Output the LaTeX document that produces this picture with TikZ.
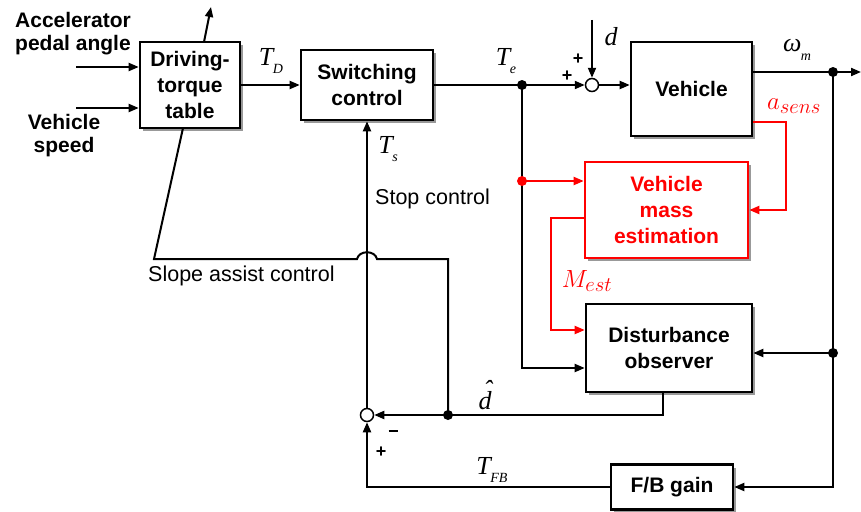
\documentclass[tikz,border=0pt]{standalone}
\usepackage{fontspec}
\setmainfont{Liberation Sans}
\newfontfamily\tms{Liberation Serif}
\usetikzlibrary{shadows,arrows.meta}
\definecolor{myred}{RGB}{255,0,0}
\newcommand{\sublab}[2]{{\tms\itshape #1\kern-0.02em\raisebox{-0.32em}{\fontsize{14}{14}\selectfont #2}}}
\begin{document}
\begin{tikzpicture}[x=1pt,y=-1pt,
  >={Triangle[length=10pt,width=8pt]},
  wire/.style={line width=2pt},
  box/.style={draw, line width=2.6pt, fill=white, align=center, inner sep=0pt,
    font=\fontsize{21}{26}\selectfont\bfseries,
    drop shadow={shadow xshift=3pt,shadow yshift=-3pt,fill=black!40,opacity=1}},
  rbox/.style={box, draw=myred, text=myred},
  sumc/.style={circle, draw, line width=1.5pt, fill=white, minimum size=13pt, inner sep=0pt},
  jdot/.style={circle, fill, minimum size=10pt, inner sep=0pt},
  lbl/.style={inner sep=0pt, font=\fontsize{26}{26}\selectfont},
  rlbl/.style={inner sep=0pt, text=myred, font=\fontsize{31}{31}\selectfont},
  txt/.style={inner sep=0pt, font=\fontsize{21.5}{24}\selectfont},
  btxt/.style={inner sep=0pt, align=center, font=\fontsize{21}{23}\selectfont\bfseries},
  sgn/.style={inner sep=0pt, font=\fontsize{18}{18}\selectfont\bfseries}
]
\useasboundingbox (0,0) rectangle (861,511);

% boxes
\node[box, minimum width=100pt, minimum height=86pt] (dt) at (190,85) {Driving-\\torque\\table};
\node[box, minimum width=132pt, minimum height=70pt] (sw) at (367,85) {Switching\\control};
\node[box, minimum width=121pt, minimum height=94pt] (veh) at (691.5,89) {Vehicle};
\node[rbox, minimum width=163pt, minimum height=96pt] (vme) at (666.5,210) {Vehicle\\mass\\estimation};
\node[box, minimum width=166pt, minimum height=88pt] (dob) at (669,348) {Disturbance\\observer};
\node[box, minimum width=122pt, minimum height=45pt] (fb) at (672,487) {F/B gain};

% summing points
\node[sumc] (s1) at (592,85) {};
\node[sumc] (s2) at (367,415) {};

% coordinates
\coordinate (in1) at (76,67);
\coordinate (in2) at (76,108);
\coordinate (dtt) at (204,42);
\coordinate (dtup) at (211,7);
\coordinate (dtb) at (183,128);
\coordinate (te) at (522,85);
\coordinate (tb) at (522,368);
\coordinate (dtop) at (592,20);
\coordinate (wj) at (833,72);
\coordinate (wend) at (861,72);
\coordinate (dj) at (833,353);
\coordinate (ra) at (786,122);
\coordinate (rj) at (522,181);
\coordinate (rm) at (551,218);
\coordinate (mo) at (551,330);
\coordinate (dobo) at (663,392);
\coordinate (dh) at (448,415);
\coordinate (sa1) at (448,259);
\coordinate (hopR) at (377,259);
\coordinate (hopL) at (357,259);
\coordinate (hc1) at (375,250);
\coordinate (hc2) at (359,250);
\coordinate (sl) at (154,259);

% black wires
\draw[wire,->] (in1) -- (in1 -| dt.west);
\draw[wire,->] (in2) -- (in2 -| dt.west);
\draw[wire,->] (dtt) -- (dtup);
\draw[wire,->] (dt.east) -- (sw.west);
\draw[wire,->] (sw.east) -- (te) -- (s1.west);
\draw[wire,->] (s1.east) -- (s1.east -| veh.west);
\draw[wire,->] (dtop) -- (s1.north);
\draw[wire,->] (veh.east |- wj) -- (wj) -- (wend);
\draw[wire,->] (wj) |- (fb.east);
\draw[wire,->] (dj) -- (dj -| dob.east);
\draw[wire,->] (te) -- (tb) -- (tb -| dob.west);
\draw[wire,->] (dobo) |- (s2.east);
\draw[wire,->] (fb.west) -| (s2.south);
\draw[wire,->] (s2.north) -- (sw.south);
\draw[wire] (dh) -- (sa1) -- (hopR) .. controls (hc1) and (hc2) .. (hopL) -- (sl) -- (dtb);

% red wires
\draw[wire,myred,->] (veh.east |- ra) -- (ra) |- (vme.east);
\draw[wire,myred,->] (rj) -- (rj -| vme.west);
\draw[wire,myred,->] (vme.west |- rm) -- (rm) -- (mo) -- (mo -| dob.west);

% junction dots
\node[jdot] (dte) at (te) {};
\node[jdot] (dwj) at (wj) {};
\node[jdot] (ddj) at (dj) {};
\node[jdot] (ddh) at (dh) {};
\node[jdot, myred] (drj) at (rj) {};

% labels
\node[btxt] (lacc) at (73,34) {Accelerator\\pedal angle};
\node[btxt] (lspd) at (64,136) {Vehicle\\speed};
\node[lbl] (lTD) at (271,61) {\sublab{T}{D}};
\node[lbl] (lTe) at (506,61) {\sublab{T}{e}};
\node[lbl] (lTs) at (388,149) {\sublab{T}{s}};
\node[lbl] (ld) at (611,37) {{\tms\itshape d}};
\node[lbl] (lw) at (797,50) {\sublab{ω}{m}};
\node[rlbl] (las) at (794,106) {$a_{sens}$};
\node[rlbl] (lme) at (587,281) {$M_{est}$};
\node[lbl] (ldh) at (485,395) {{\tms\itshape\rlap{\kern0.2em\raisebox{0.42em}{\char"02C6}}d}};
\node[lbl] (lTFB) at (492,470) {\sublab{T}{FB}};
\node[txt, anchor=west] (lstop) at (375,199) {Stop control};
\node[txt, anchor=west] (lslope) at (148,276) {Slope assist control};
\node[sgn] (p1) at (578,59) {+};
\node[sgn] (p2) at (567,76) {+};
\node[sgn] (m1) at (393,434) {\rule[0.3em]{0.5em}{2pt}};
\node[sgn] (p3) at (381,452) {+};
\end{tikzpicture}
\end{document}
